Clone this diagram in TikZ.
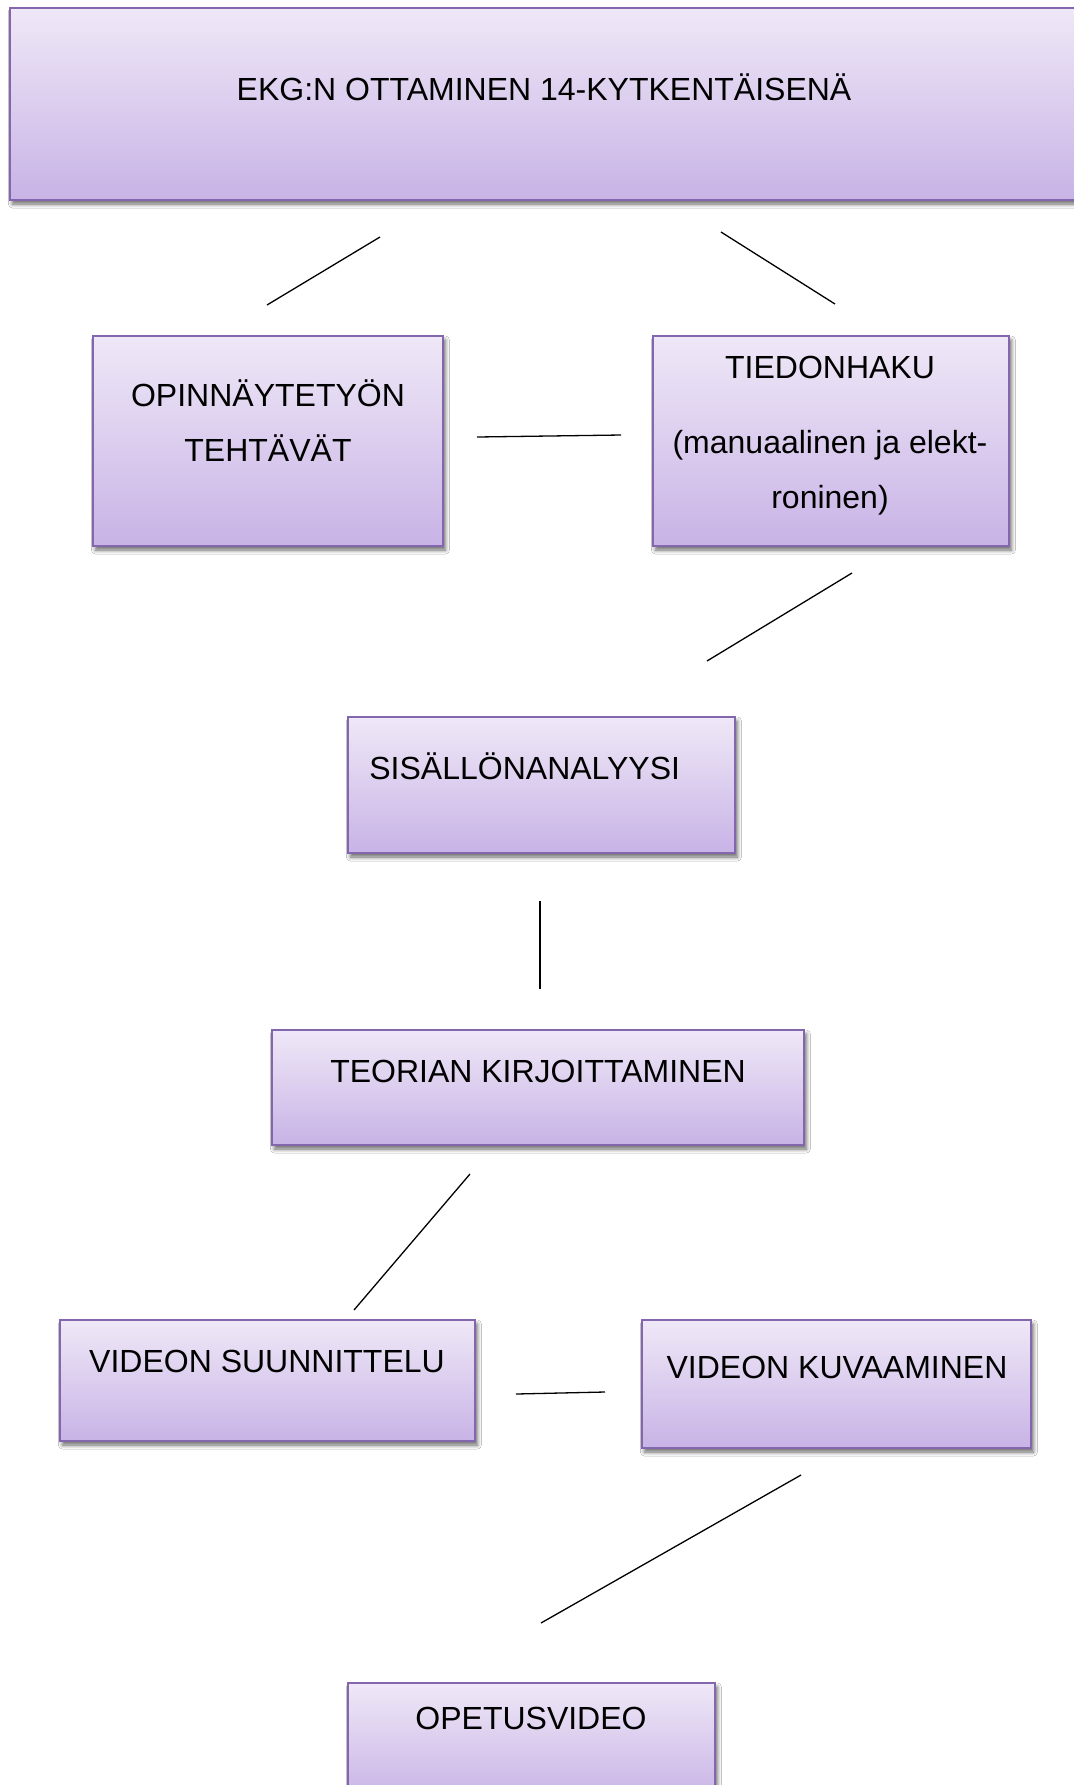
\documentclass[tikz,border=0pt]{standalone}
\usepackage{fontspec}
\setmainfont{Liberation Sans}
\usetikzlibrary{fit,shadows.blur}
\definecolor{boxtop}{HTML}{EFE8F7}
\definecolor{boxbot}{HTML}{C8B3E6}
\definecolor{boxline}{HTML}{8466AE}
\tikzset{
  box/.style={rectangle, inner sep=0pt, top color=boxtop, bottom color=boxbot,
    draw=boxline, line width=1pt,
    blur shadow={shadow xshift=1.2pt, shadow yshift=-2pt, shadow blur steps=6, shadow blur radius=2pt, shadow opacity=60}},
  txt/.style={anchor=base, inner sep=0pt, font=\fontsize{16pt}{27pt}\selectfont},
  link/.style={draw=black, line width=0.65pt}
}
\begin{document}
\begin{tikzpicture}[x=0.5pt,y=-0.5pt]
\useasboundingbox (0,0) rectangle (1074,1785);
\fill[white] (0,0) rectangle (1074,1785);
% boxes
\node[box, fit={(10,7.5) (1085,200)}] (top) {};
\node[box, fit={(93,336) (443,546)}] (opin) {};
\node[box, fit={(653,336) (1009,546)}] (tied) {};
\node[box, fit={(348,717) (735,853)}] (sis) {};
\node[box, fit={(272,1030) (804,1145)}] (teo) {};
\node[box, fit={(60,1320) (475,1441)}] (vsu) {};
\node[box, fit={(642,1320) (1031,1448)}] (vku) {};
\node[box, fit={(348,1683) (715,1800)}] (ope) {};
% texts
\node[txt] (top-t) at (544,100) {EKG:N OTTAMINEN 14-KYTKENTÄISENÄ};
\node[txt] (opin-t1) at (268,406) {OPINNÄYTETYÖN};
\node[txt] (opin-t2) at (268,461) {TEHTÄVÄT};
\node[txt] (tied-t1) at (830,378) {TIEDONHAKU};
\node[txt] (tied-t2) at (830,453) {(manuaalinen ja elekt-};
\node[txt] (tied-t3) at (830,508) {roninen)};
\node[txt, anchor=base west] (sis-t) at (369,779) {SISÄLLÖNANALYYSI};
\node[txt] (teo-t) at (538,1082) {TEORIAN KIRJOITTAMINEN};
\node[txt] (vsu-t) at (267,1372) {VIDEON SUUNNITTELU};
\node[txt] (vku-t) at (837,1378) {VIDEON KUVAAMINEN};
\node[txt] (ope-t) at (531,1729) {OPETUSVIDEO};
% connector end points
\coordinate (l1a) at (267,305); \coordinate (l1b) at (380,237);
\coordinate (l2a) at (721,232); \coordinate (l2b) at (835,304);
\coordinate (l3a) at (477,437); \coordinate (l3b) at (621,435);
\coordinate (l4a) at (852,573); \coordinate (l4b) at (707,661);
\coordinate (l5a) at (540,901); \coordinate (l5b) at (540,989);
\coordinate (l6a) at (470,1174); \coordinate (l6b) at (354,1310);
\coordinate (l7a) at (516,1394); \coordinate (l7b) at (605,1392);
\coordinate (l8a) at (801,1475); \coordinate (l8b) at (541,1623);
\draw[link] (l1a) -- (l1b);
\draw[link] (l2a) -- (l2b);
\draw[link] (l3a) -- (l3b);
\draw[link] (l4a) -- (l4b);
\draw[link] (l5a) -- (l5b);
\draw[link] (l6a) -- (l6b);
\draw[link] (l7a) -- (l7b);
\draw[link] (l8a) -- (l8b);
\end{tikzpicture}
\end{document}
